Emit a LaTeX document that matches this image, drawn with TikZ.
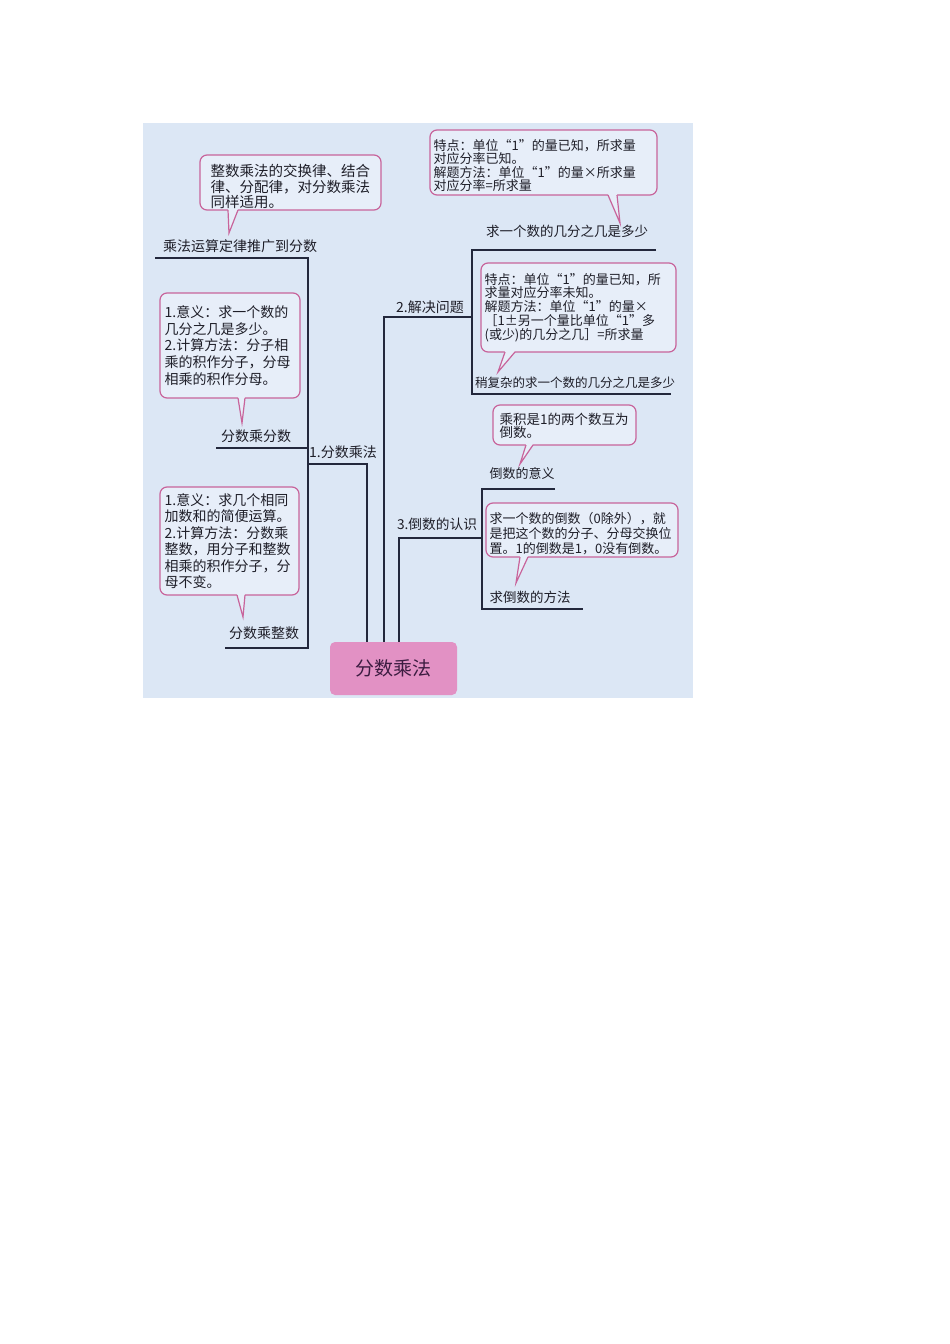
\documentclass[tikz,border=0pt]{standalone}
\usepackage{fontspec}
\setmainfont{Noto Sans CJK SC}
\definecolor{bgc}{RGB}{220,231,245}
\definecolor{bubf}{RGB}{231,238,249}
\definecolor{pinkb}{RGB}{200,100,155}
\definecolor{linec}{RGB}{35,40,60}
\definecolor{txt}{RGB}{30,30,40}
\definecolor{rootc}{RGB}{226,145,196}
\definecolor{roottxt}{RGB}{60,28,65}
\begin{document}
\begin{tikzpicture}[x=1pt,y=-1pt,
  treeline/.style={draw=linec, line width=1.3pt},
  lbl/.style={inner sep=0pt, text=txt, font=\fontsize{14}{14}\selectfont},
  bubble/.style={draw=pinkb, fill=bubf, line width=1.2pt, rounded corners=7pt, inner sep=0pt},
  tailline/.style={draw=pinkb, line width=1.2pt, line join=miter},
  ctext/.style={inner sep=0pt, text=txt, align=left, anchor=west}
]
\useasboundingbox (0,0) rectangle (950,1344);
\fill[white] (0,0) rectangle (950,1344);
\fill[bgc] (143,123) rectangle (693,698);

% root
\node[fill=rootc, rounded corners=5pt, minimum width=127pt, minimum height=53pt, inner sep=0pt,
      font=\fontsize{19}{19}\selectfont, text=roottxt] (root) at (393.5,668.5) {分数乘法};

% coordinates of the tree
\coordinate (a1) at (155,258); \coordinate (a2) at (308,258);
\coordinate (a3) at (308,648); \coordinate (a4) at (225,648);
\coordinate (a5) at (216,448); \coordinate (a6) at (308,448);
\coordinate (b1) at (308,464); \coordinate (b2) at (367,464);
\coordinate (c1) at (656,250); \coordinate (c2) at (472,250);
\coordinate (c3) at (472,394); \coordinate (c4) at (671,394);
\coordinate (d1) at (472,317); \coordinate (d2) at (384,317);
\coordinate (e1) at (555,489); \coordinate (e2) at (482,489);
\coordinate (e3) at (482,609); \coordinate (e4) at (583,609);
\coordinate (f1) at (482,538); \coordinate (f2) at (399,538);

\draw[treeline] (a1) -- (a2) -- (a3) -- (a4);
\draw[treeline] (a5) -- (a6);
\draw[treeline] (b1) -- (b2) -- (b2 |- root.north);
\draw[treeline] (c1) -- (c2) -- (c3) -- (c4);
\draw[treeline] (d1) -- (d2) -- (d2 |- root.north);
\draw[treeline] (e1) -- (e2) -- (e3) -- (e4);
\draw[treeline] (f1) -- (f2) -- (f2 |- root.north);

% labels
\node[lbl] (l1) at (240,246) {乘法运算定律推广到分数};
\node[lbl] (l2) at (256,436) {分数乘分数};
\node[lbl] (l3) at (264,633) {分数乘整数};
\node[lbl] (l4) at (343,452) {1.分数乘法};
\node[lbl] (l5) at (430,307) {2.解决问题};
\node[lbl, font=\fontsize{13.5}{13.5}\selectfont] (l6) at (567,231) {求一个数的几分之几是多少};
\node[lbl, font=\fontsize{12.5}{12.5}\selectfont] (l7) at (575,383) {稍复杂的求一个数的几分之几是多少};
\node[lbl, font=\fontsize{13.7}{13.7}\selectfont] (l8) at (437,524) {3.倒数的认识};
\node[lbl, font=\fontsize{13}{13}\selectfont] (l9) at (522,474) {倒数的意义};
\node[lbl, font=\fontsize{13.5}{13.5}\selectfont] (l10) at (530,597) {求倒数的方法};

% callout 1
\node[bubble, minimum width=181pt, minimum height=55pt] (k1) at (290.5,182.5) {};
\coordinate (k1t) at (229,233);
\fill[bubf] (228,209) -- (238,209) -- (k1t) -- cycle;
\draw[tailline] (228,210) -- (k1t) -- (238,210);
\node[ctext, font=\fontsize{14.5}{15.5}\selectfont] (k1x) at ([xshift=11pt,yshift=-4pt]k1.west)
  {整数乘法的交换律、结合\\律、分配律，对分数乘法\\同样适用。};

% callout 2
\node[bubble, minimum width=227pt, minimum height=65pt] (k2) at (543.5,162.5) {};
\coordinate (k2t) at (620,223);
\fill[bubf] (608,194) -- (617,194) -- (k2t) -- cycle;
\draw[tailline] (608,195) -- (k2t) -- (617,195);
\node[ctext, font=\fontsize{13}{13.6}\selectfont] (k2x) at ([xshift=4pt,yshift=-3pt]k2.west)
  {特点：单位“1”的量已知，所求量\\对应分率已知。\\解题方法：单位“1”的量×所求量\\对应分率=所求量};

% callout 3
\node[bubble, minimum width=140pt, minimum height=105pt] (k3) at (230,345.5) {};
\coordinate (k3t) at (242,423);
\fill[bubf] (238,397) -- (245,397) -- (k3t) -- cycle;
\draw[tailline] (238,398) -- (k3t) -- (245,398);
\node[ctext, font=\fontsize{14}{16.7}\selectfont] (k3x) at ([xshift=5pt]k3.west)
  {1.意义：求一个数的\\几分之几是多少。\\2.计算方法：分子相\\乘的积作分子，分母\\相乘的积作分母。};

% callout 4
\node[bubble, minimum width=139pt, minimum height=108pt] (k4) at (229.5,541) {};
\coordinate (k4t) at (243,617);
\fill[bubf] (237,594) -- (245,594) -- (k4t) -- cycle;
\draw[tailline] (237,595) -- (k4t) -- (245,595);
\node[ctext, font=\fontsize{14}{16.5}\selectfont] (k4x) at ([xshift=5pt]k4.west)
  {1.意义：求几个相同\\加数和的简便运算。\\2.计算方法：分数乘\\整数，用分子和整数\\相乘的积作分子，分\\母不变。};

% callout 5
\node[bubble, minimum width=195pt, minimum height=89pt] (k5) at (578.5,307.5) {};
\coordinate (k5t) at (498,372);
\fill[bubf] (505,351) -- (515,351) -- (k5t) -- cycle;
\draw[tailline] (505,352) -- (k5t) -- (515,352);
\node[ctext, font=\fontsize{13}{13.8}\selectfont] (k5x) at ([xshift=4pt]k5.west)
  {特点：单位“1”的量已知，所\\求量对应分率未知。\\解题方法：单位“1”的量×\\［1±另一个量比单位“1”多\\(或少)的几分之几］=所求量};

% callout 6
\node[bubble, minimum width=143pt, minimum height=40pt] (k6) at (564.5,425) {};
\coordinate (k6t) at (520,464);
\fill[bubf] (526,444) -- (533,444) -- (k6t) -- cycle;
\draw[tailline] (526,445) -- (k6t) -- (533,445);
\node[ctext, font=\fontsize{13.5}{13.5}\selectfont] (k6x) at ([xshift=7pt,yshift=-1pt]k6.west)
  {乘积是1的两个数互为\\倒数。};

% callout 7
\node[bubble, minimum width=192pt, minimum height=54pt] (k7) at (582,530) {};
\coordinate (k7t) at (516,583);
\fill[bubf] (520,556) -- (528,556) -- (k7t) -- cycle;
\draw[tailline] (520,557) -- (k7t) -- (528,557);
\node[ctext, font=\fontsize{13}{15}\selectfont] (k7x) at ([xshift=4pt,yshift=-4pt]k7.west)
  {求一个数的倒数（0除外），就\\是把这个数的分子、分母交换位\\置。1的倒数是1，0没有倒数。};
\end{tikzpicture}
\end{document}
